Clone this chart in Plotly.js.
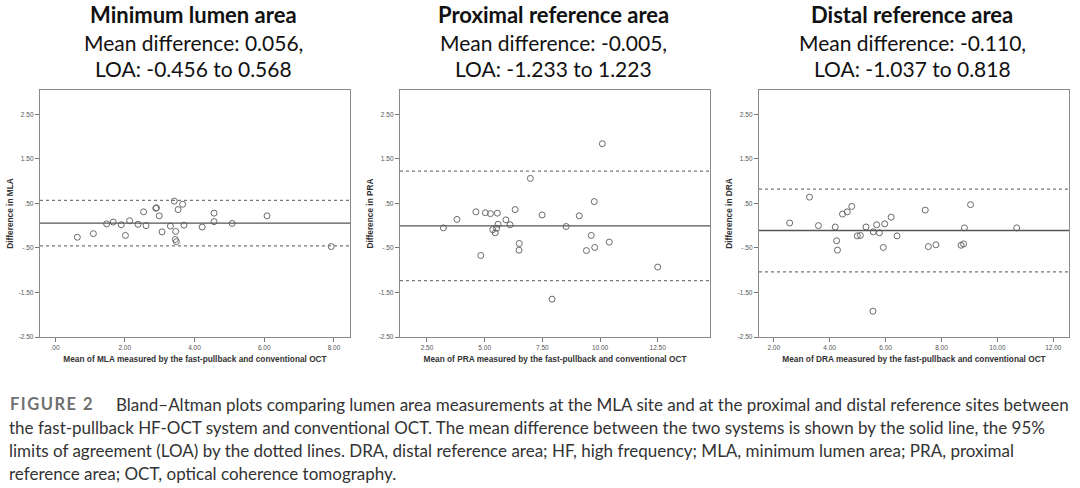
<!DOCTYPE html>
<html>
<head>
<meta charset="utf-8">
<script src="https://cdn.plot.ly/plotly-3.0.1.min.js"></script>
<style>
html,body{margin:0;padding:0;background:#fff;}
#chart{width:1080px;height:488px;}
g.annotation[data-index="9"] text{letter-spacing:1.5px;}
</style>
</head>
<body>
<div id="chart"></div>
<script>
// ---------- data ----------
const mlaMean = [0.64,1.10,1.48,1.67,1.90,2.02,2.14,2.38,2.54,2.61,2.89,2.91,2.99,3.07,3.31,3.42,3.46,3.45,3.48,3.53,3.66,3.70,4.22,4.56,4.56,5.08,6.08,7.92];
const mlaDiff = [-0.26,-0.18,0.04,0.08,0.02,-0.22,0.11,0.03,0.31,0.00,0.39,0.40,0.22,-0.14,-0.01,0.55,-0.13,-0.31,-0.36,0.36,0.48,0.01,-0.03,0.28,0.09,0.05,0.22,-0.47];

const praMean = [3.21,3.80,4.62,4.83,5.03,5.25,5.35,5.46,5.52,5.55,5.58,5.92,6.10,6.32,6.49,6.50,6.98,7.49,7.92,8.53,9.10,9.41,9.62,9.75,9.77,10.10,10.40,12.50];
const praDiff = [-0.05,0.14,0.31,-0.67,0.29,0.27,-0.09,-0.16,-0.06,0.28,0.03,0.13,0.02,0.36,-0.55,-0.40,1.06,0.24,-1.65,-0.02,0.22,-0.56,-0.22,0.54,-0.49,1.84,-0.37,-0.93];

const draMean = [2.57,3.28,3.60,4.20,4.25,4.28,4.46,4.63,4.79,4.99,5.10,5.30,5.56,5.55,5.68,5.78,5.92,5.97,6.20,6.41,7.42,7.53,7.80,8.70,8.79,8.82,9.04,10.69];
const draDiff = [0.06,0.64,0.00,-0.03,-0.34,-0.55,0.26,0.31,0.43,-0.23,-0.22,-0.03,-0.14,-1.92,0.02,-0.16,-0.49,0.04,0.19,-0.23,0.35,-0.47,-0.43,-0.44,-0.41,-0.05,0.47,-0.05];

const meanDiff = [0.056, -0.005, -0.110];
const loaLow   = [-0.456, -1.233, -1.037];
const loaHigh  = [0.568, 1.223, 0.818];

const panelTitles = ['Minimum lumen area','Proximal reference area','Distal reference area'];
const measureNames = ['MLA','PRA','DRA'];

const yTickVals = [2.5,1.5,0.5,-0.5,-1.5,-2.5];
const yTickText = ['2.50','1.50','.50','-.50','-1.50','-2.50'];
const x1TickVals = [0,2,4,6,8];
const x1TickText = ['.00','2.00','4.00','6.00','8.00'];
const x2TickVals = [2.5,5,7.5,10,12.5];
const x2TickText = ['2.50','5.00','7.50','10.00','12.50'];
const x3TickVals = [2,4,6,8,10,12];
const x3TickText = ['2.00','4.00','6.00','8.00','10.00','12.00'];

const captionLines = [
  'Bland–Altman plots comparing lumen area measurements at the MLA site and at the proximal and distal reference sites between',
  'the fast-pullback HF-OCT system and conventional OCT. The mean difference between the two systems is shown by the solid line, the 95%',
  'limits of agreement (LOA) by the dotted lines. DRA, distal reference area; HF, high frequency; MLA, minimum lumen area; PRA, proximal',
  'reference area; OCT, optical coherence tomography.'
];

// ---------- layout helpers ----------
const W = 1080, H = 488;
const px = x => x / W;
const py = y => 1 - y / H;

const xs = [mlaMean, praMean, draMean];
const ys = [mlaDiff, praDiff, draDiff];
const xTickVals = [x1TickVals, x2TickVals, x3TickVals];
const xTickText = [x1TickText, x2TickText, x3TickText];
const xRanges = [[-0.43, 8.459], [1.33, 14.767], [1.474, 12.56]];
const xDom = [[40, 350], [400, 710], [759, 1069]];
const yRange = [-2.5, 3.045];

const axisFont = {family: 'Liberation Sans, Arial, sans-serif', size: 6.5, color: '#555'};
const titleFontAx = {family: 'Liberation Sans, Arial, sans-serif', size: 8.3, color: '#333', weight: 'bold'};

const traces = [];
const layout = {
  width: W, height: H,
  margin: {l: 0, r: 0, t: 0, b: 0},
  paper_bgcolor: '#fff', plot_bgcolor: '#fff',
  showlegend: false,
  shapes: [], annotations: []
};

for (let i = 0; i < 3; i++) {
  const s = i === 0 ? '' : String(i + 1);
  traces.push({
    type: 'scatter', mode: 'markers',
    x: xs[i], y: ys[i],
    xaxis: 'x' + s, yaxis: 'y' + s,
    marker: {symbol: 'circle-open', size: 6, color: '#6a6a6a', line: {width: 1, color: '#6a6a6a'}},
    hoverinfo: 'x+y'
  });
  const common = {
    showgrid: false, zeroline: false, showline: true, mirror: true,
    linecolor: '#8a8a8a', linewidth: 1.2,
    ticks: 'outside', ticklen: 4, tickwidth: 1, tickcolor: '#777',
    tickfont: axisFont
  };
  layout['xaxis' + s] = Object.assign({}, common, {
    domain: [px(xDom[i][0]), px(xDom[i][1])],
    range: xRanges[i], anchor: 'y' + s,
    tickmode: 'array', tickvals: xTickVals[i], ticktext: xTickText[i],
    title: {text: 'Mean of ' + measureNames[i] + ' measured by the fast-pullback and conventional OCT', font: titleFontAx, standoff: 6}
  });
  layout['yaxis' + s] = Object.assign({}, common, {
    domain: [py(337), py(90)],
    range: yRange, anchor: 'x' + s,
    tickmode: 'array', tickvals: yTickVals, ticktext: yTickText,
    title: {text: 'Difference in ' + measureNames[i], font: titleFontAx, standoff: 3}
  });
  const xr = 'x' + s + ' domain', yr = 'y' + s;
  layout.shapes.push({type: 'line', xref: xr, yref: yr, x0: 0, x1: 1, y0: meanDiff[i], y1: meanDiff[i], line: {color: '#555', width: 1.4}});
  layout.shapes.push({type: 'line', xref: xr, yref: yr, x0: 0, x1: 1, y0: loaLow[i], y1: loaLow[i], line: {color: '#777', width: 1.2, dash: 'dot'}});
  layout.shapes.push({type: 'line', xref: xr, yref: yr, x0: 0, x1: 1, y0: loaHigh[i], y1: loaHigh[i], line: {color: '#777', width: 1.2, dash: 'dot'}});

  const cx = (xDom[i][0] + xDom[i][1]) / 2 - 2;
  const tf = {family: 'Lato, "Open Sans", sans-serif', size: 21, color: '#111'};
  const tfb = {family: 'Lato, "Open Sans", sans-serif', size: 22, color: '#111'};
  layout.annotations.push({xref: 'paper', yref: 'paper', x: px(cx), y: py(14.5), xanchor: 'center', yanchor: 'middle', showarrow: false,
    text: '<b>' + panelTitles[i] + '</b>', font: tfb});
  layout.annotations.push({xref: 'paper', yref: 'paper', x: px(cx), y: py(42), xanchor: 'center', yanchor: 'middle', showarrow: false,
    text: 'Mean difference: ' + meanDiff[i].toFixed(3) + ',', font: tf});
  layout.annotations.push({xref: 'paper', yref: 'paper', x: px(cx), y: py(68), xanchor: 'center', yanchor: 'middle', showarrow: false,
    text: 'LOA: ' + loaLow[i].toFixed(3) + ' to ' + loaHigh[i].toFixed(3), font: tf});
}

// caption (annotation index 9 = "FIGURE 2")
const capFont = {family: 'Lato, "Open Sans", sans-serif', size: 17.0, color: '#333'};
layout.annotations.push({xref: 'paper', yref: 'paper', x: px(8), y: py(404), xanchor: 'left', yanchor: 'middle', align: 'left', showarrow: false,
  text: '<b>FIGURE 2</b>', font: {family: 'Lato, sans-serif', size: 16.5, color: '#707070'}});
const capY = [404, 427, 450, 473];
for (let k = 0; k < captionLines.length; k++) {
  layout.annotations.push({xref: 'paper', yref: 'paper', x: px(k === 0 ? 114 : 7), y: py(capY[k]), xanchor: 'left', yanchor: 'middle', align: 'left', showarrow: false,
    text: captionLines[k], font: capFont});
}

Plotly.newPlot('chart', traces, layout, {displayModeBar: false, staticPlot: true});
</script>
</body>
</html>
